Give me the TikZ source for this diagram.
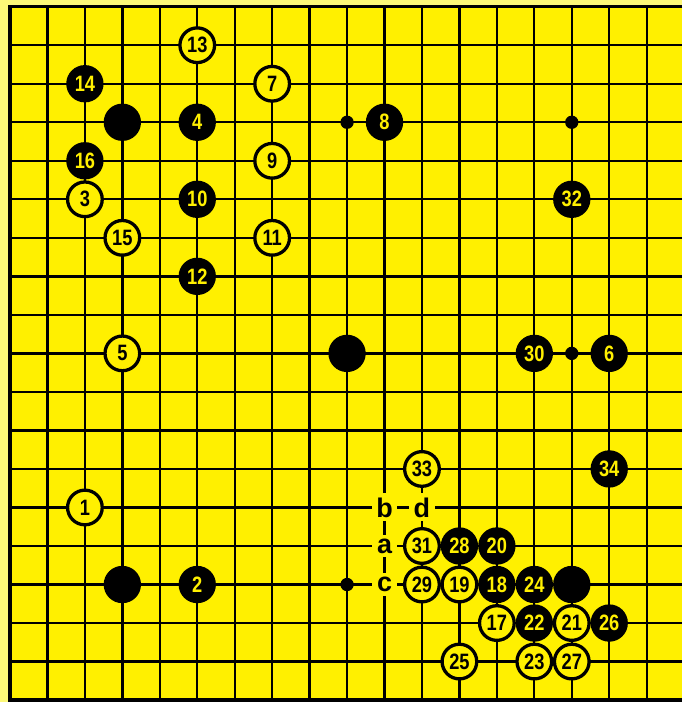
\documentclass[tikz,border=0pt]{standalone}
\usepackage{fontspec}
\setsansfont{Liberation Sans}
\newfontfamily\stonefont{Liberation Sans}[FakeStretch=0.82]
\usetikzlibrary{positioning}
\definecolor{boardyellow}{RGB}{255,240,0}
\definecolor{marginyellow}{RGB}{252,248,120}
\tikzset{
  stonenum/.style={font=\stonefont\bfseries\fontsize{19}{19}\selectfont},
  blackstone/.style={circle,fill=black,minimum size=1.12cm,inner sep=0pt,text=boardyellow,stonenum},
  whitestone/.style={circle,draw=black,line width=2.8pt,fill=boardyellow,minimum size=1.04cm,inner sep=0pt,stonenum},
  hoshi/.style={circle,fill=black,minimum size=0.4cm,inner sep=0pt},
  pointlabel/.style={fill=boardyellow,inner xsep=4pt,inner ysep=3.5pt,font=\sffamily\bfseries\fontsize{23}{23}\selectfont}
}
\begin{document}
\begin{tikzpicture}[x=1.1235cm,y=-1.1556cm]
\useasboundingbox (-0.267,-0.174) rectangle (17.944,18.05);
\fill[marginyellow] (-0.267,-0.174) rectangle (17.944,18.05);
\fill[boardyellow] (0,0) rectangle (17.944,18);
% grid
\foreach \c in {1,...,17} \draw[line width=2pt] (\c,0) -- (\c,18);
\foreach \r in {1,...,17} \draw[line width=2pt] (0,\r) -- (17.944,\r);
\draw[line width=3pt] (17.944,0) -- (0,0) -- (0,18) -- (17.944,18);
% star points
\node[hoshi] (H1) at (9,3) {};
\node[hoshi] (H2) at (15,3) {};
\node[hoshi] (H3) at (15,9) {};
\node[hoshi] (H4) at (9,15) {};
% stones already on the board
\node[blackstone] (Bx1) at (3,3) {};
\node[blackstone] (Bx2) at (9,9) {};
\node[blackstone] (Bx3) at (3,15) {};
\node[blackstone] (Bx4) at (15,15) {};
% black moves
\node[blackstone] (B2) at (5,15) {2};
\node[blackstone] (B4) at (5,3) {4};
\node[blackstone] (B6) at (16,9) {6};
\node[blackstone] (B8) at (10,3) {8};
\node[blackstone] (B10) at (5,5) {10};
\node[blackstone] (B12) at (5,7) {12};
\node[blackstone] (B14) at (2,2) {14};
\node[blackstone] (B16) at (2,4) {16};
\node[blackstone] (B18) at (13,15) {18};
\node[blackstone] (B20) at (13,14) {20};
\node[blackstone] (B22) at (14,16) {22};
\node[blackstone] (B24) at (14,15) {24};
\node[blackstone] (B26) at (16,16) {26};
\node[blackstone] (B28) at (12,14) {28};
\node[blackstone] (B30) at (14,9) {30};
\node[blackstone] (B32) at (15,5) {32};
\node[blackstone] (B34) at (16,12) {34};
% white moves
\node[whitestone] (W1) at (2,13) {1};
\node[whitestone] (W3) at (2,5) {3};
\node[whitestone] (W5) at (3,9) {5};
\node[whitestone] (W7) at (7,2) {7};
\node[whitestone] (W9) at (7,4) {9};
\node[whitestone] (W11) at (7,6) {11};
\node[whitestone] (W13) at (5,1) {13};
\node[whitestone] (W15) at (3,6) {15};
\node[whitestone] (W17) at (13,16) {17};
\node[whitestone] (W19) at (12,15) {19};
\node[whitestone] (W21) at (15,16) {21};
\node[whitestone] (W23) at (14,17) {23};
\node[whitestone] (W25) at (12,17) {25};
\node[whitestone] (W27) at (15,17) {27};
\node[whitestone] (W29) at (11,15) {29};
\node[whitestone] (W31) at (11,14) {31};
\node[whitestone] (W33) at (11,12) {33};
% marked points
\node[pointlabel] (La) at (10,14) {a};
\node[pointlabel] (Lb) at (10,13) {b};
\node[pointlabel] (Lc) at (10,15) {c};
\node[pointlabel] (Ld) at (11,13) {d};
\end{tikzpicture}
\end{document}
